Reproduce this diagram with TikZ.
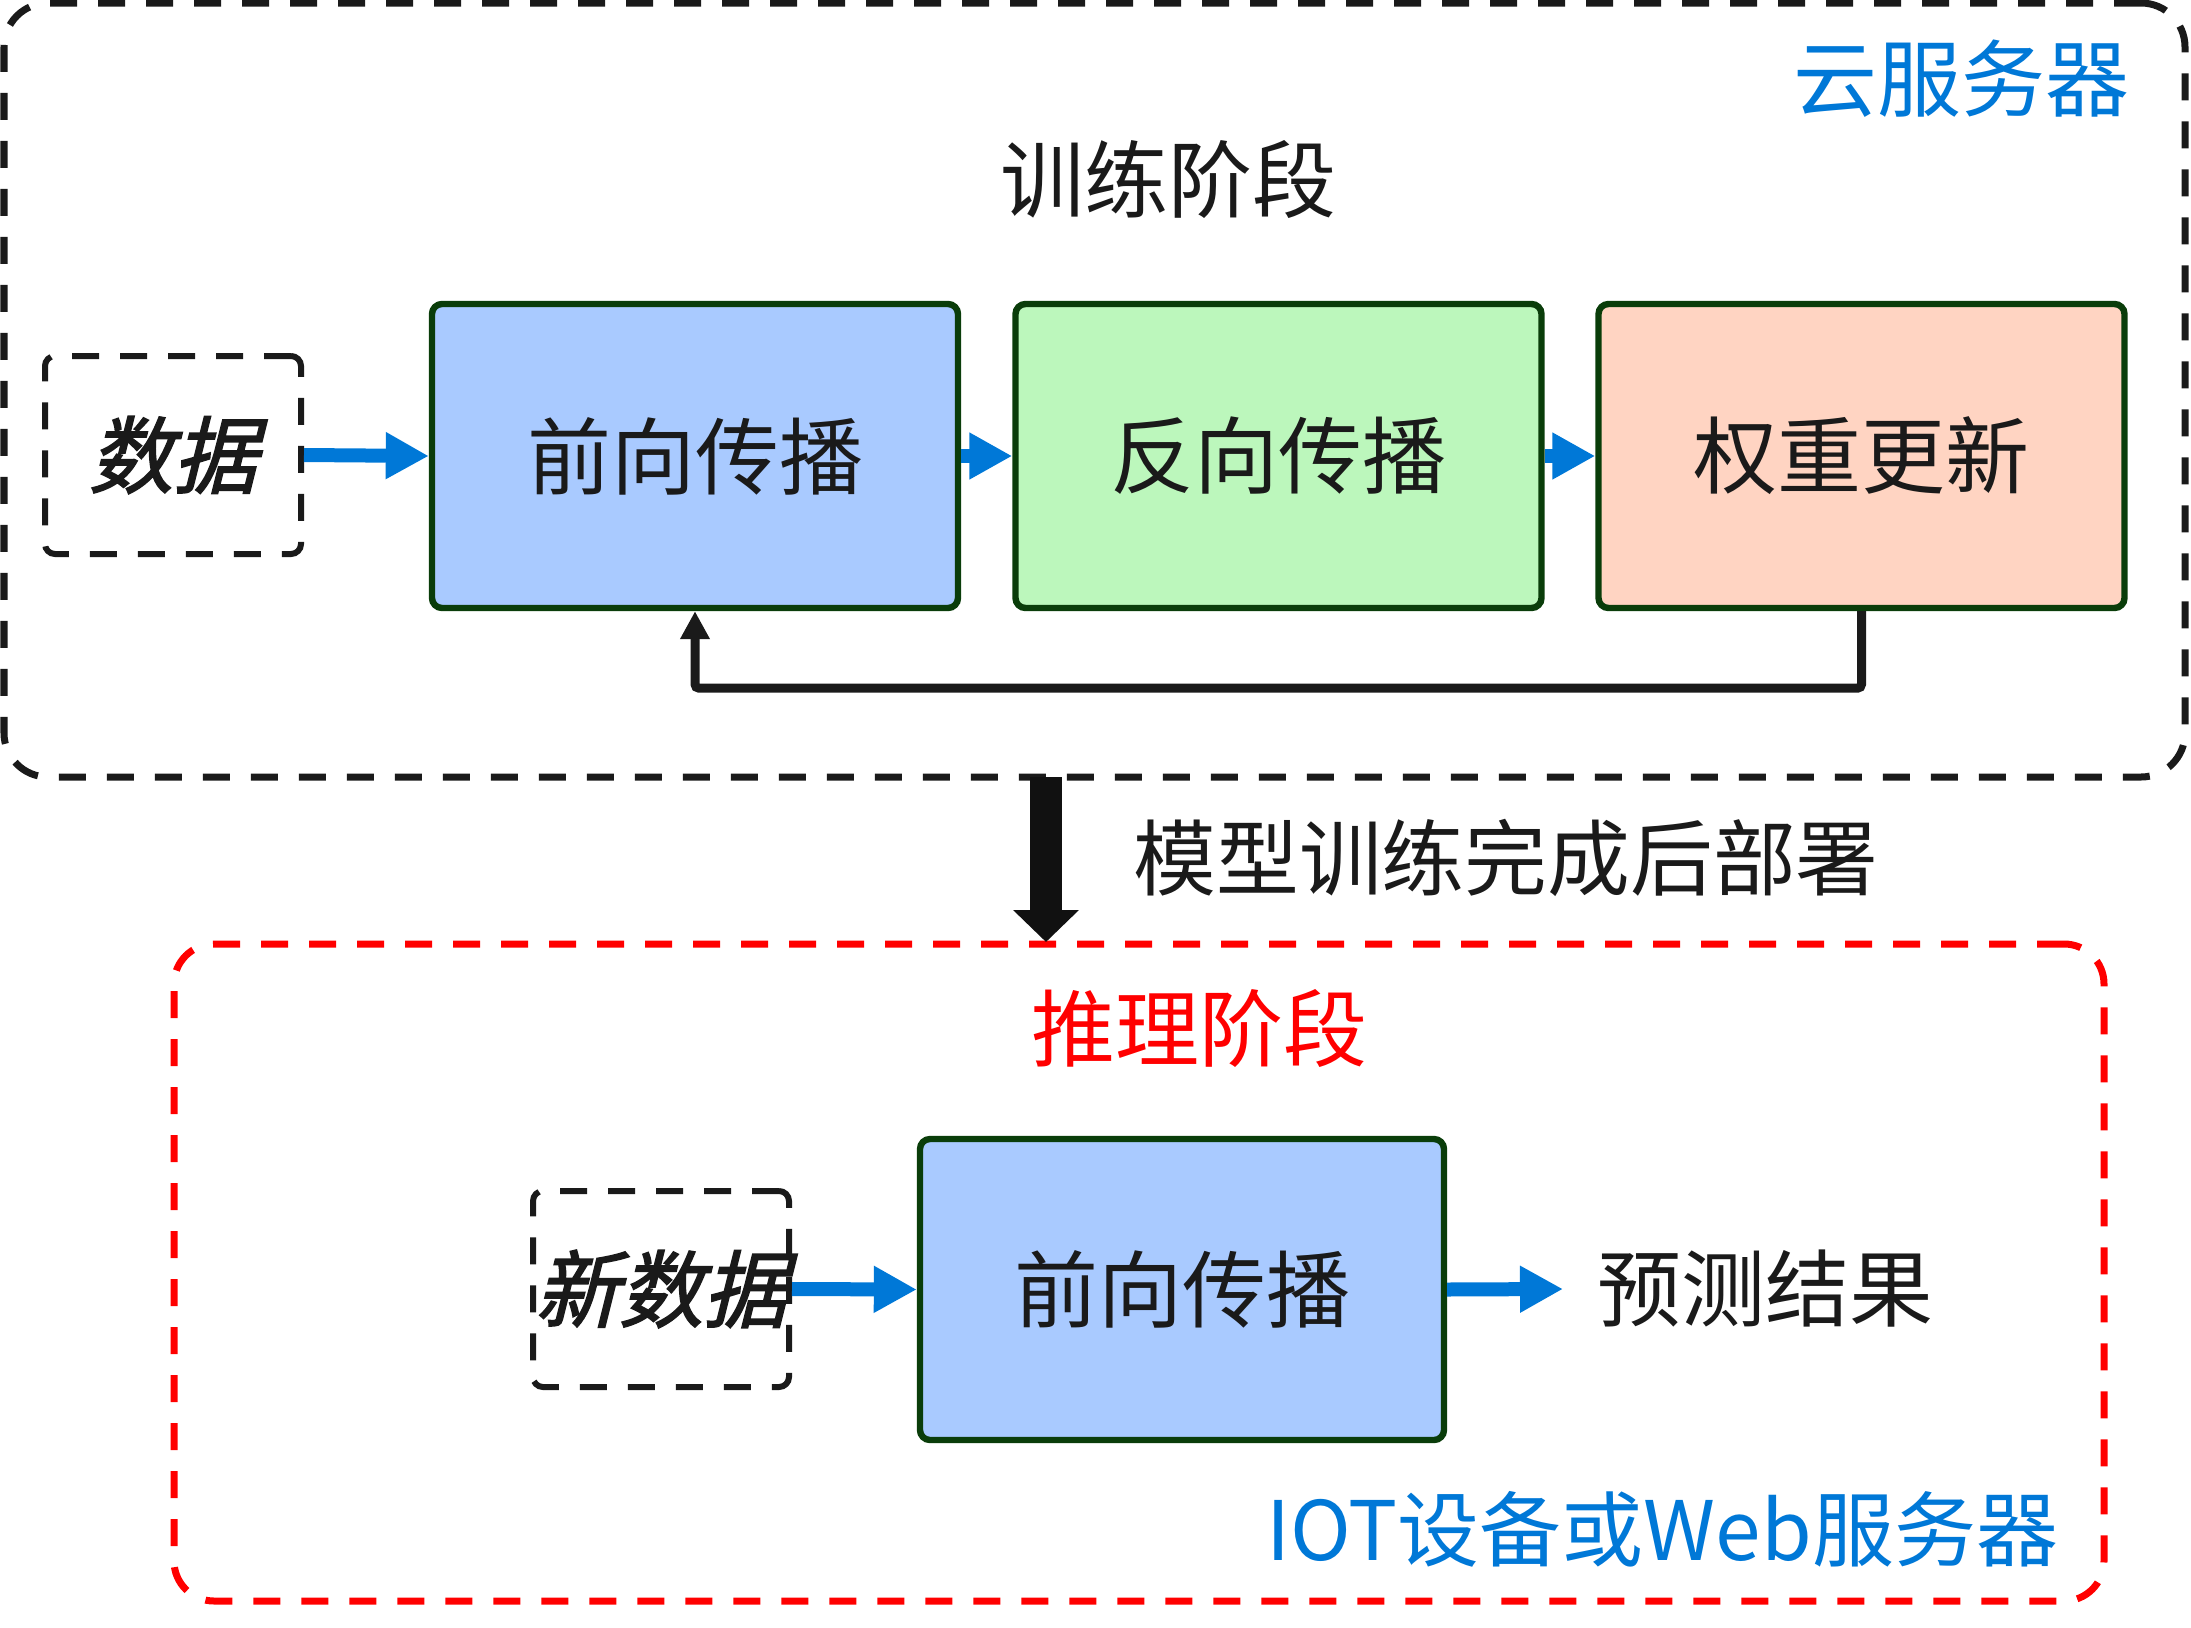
\documentclass[tikz,border=0pt]{standalone}
\usepackage{fontspec}
\setmainfont{Noto Sans CJK SC}
\newfontfamily\cjkbi[FakeSlant=0.25,FakeBold=2]{Noto Sans CJK SC}
\usetikzlibrary{arrows.meta}
\definecolor{arrowblue}{HTML}{0078D7}
\definecolor{boxline}{HTML}{0A3D0A}
\definecolor{fillblue}{HTML}{A9CAFF}
\definecolor{fillgreen}{HTML}{BCF7BC}
\definecolor{fillpeach}{HTML}{FFD4C2}
\definecolor{inkblack}{HTML}{1A1A1A}
\definecolor{deepblack}{HTML}{111111}
\definecolor{redline}{HTML}{FF0000}
\begin{document}
\begin{tikzpicture}[x=0.5pt,y=-0.5pt,
  bigfont/.style={font=\fontsize{42pt}{50pt}\selectfont},
  region/.style={draw=inkblack, line width=3.5pt, dash pattern=on 13.5pt off 10.5pt, rounded corners=22pt, inner sep=0pt},
  redregion/.style={region, draw=redline, rounded corners=20pt},
  databox/.style={draw=inkblack, line width=3pt, dash pattern=on 13.5pt off 10.5pt, rounded corners=5pt, inner sep=0pt, bigfont, text=inkblack},
  procbox/.style={draw=boxline, line width=3.2pt, rounded corners=5pt, inner sep=0pt, bigfont, text=inkblack, minimum width=263pt, minimum height=152pt},
  label/.style={bigfont, inner sep=0pt},
  bluearrow/.style={draw=arrowblue, line width=7pt, -{Triangle[length=21.5pt,width=22pt]}},
  fbarrow/.style={draw=inkblack, line width=4.5pt, -{Triangle[length=14pt,width=14pt]}},
  deployarrow/.style={draw=deepblack, line width=16pt, -{Triangle[length=16pt,width=32pt]}}
]
\useasboundingbox (0,0) rectangle (2191,1628);

% regions
\node[region, minimum width=1090.5pt, minimum height=387pt] (cloud) at (1094.5,390) {};
\node[redregion, minimum width=965pt, minimum height=328.5pt] (edge) at (1139,1272.5) {};

% region labels
\node[label, text=arrowblue, anchor=east] (cloudlbl) at (2130,79) {云服务器};
\node[label, text=inkblack] (trainlbl) at (1168,179) {训练阶段};
\node[label, text=redline] (inferlbl) at (1199,1028) {推理阶段};
\node[label, text=arrowblue, font=\fontsize{41pt}{49pt}\selectfont] (iotlbl) at (1662,1529) {IOT设备或Web服务器};
\node[label, text=inkblack, anchor=west, font=\fontsize{41.4pt}{49pt}\selectfont] (deploylbl) at (1133,858) {模型训练完成后部署};

% training stage
\node[databox, minimum width=128pt, minimum height=99pt] (d1) at (173,455) {\cjkbi 数据};
\node[procbox, fill=fillblue] (f1) at (695,456) {前向传播};
\node[procbox, fill=fillgreen] (b1) at (1278.5,456) {反向传播};
\node[procbox, fill=fillpeach] (w1) at (1861.5,456) {权重更新};

\draw[bluearrow] (d1.east) -- (f1.west);
\draw[bluearrow] (f1.east) -- (b1.west);
\draw[bluearrow] (b1.east) -- (w1.west);
\draw[fbarrow, rounded corners=2pt] (w1.south) -- ++(0,77) -| (f1.south);

% deploy arrow
\coordinate (dep1) at (1046,777);
\coordinate (dep2) at (1046,942);
\draw[deployarrow] (dep1) -- (dep2);

% inference stage
\node[databox, minimum width=128pt, minimum height=98pt] (d2) at (661,1289) {};
\node[label, text=inkblack] (d2lbl) at (661,1289) {\cjkbi 新数据};
\node[procbox, fill=fillblue, minimum width=262pt, minimum height=150.5pt] (f2) at (1182,1289.5) {前向传播};
\node[label, text=inkblack] (pred) at (1765,1289) {预测结果};
\coordinate (predtip) at (1563,1289);

\draw[bluearrow] (d2.east) -- (f2.west);
\draw[bluearrow] (f2.east) -- (predtip);
\end{tikzpicture}
\end{document}
